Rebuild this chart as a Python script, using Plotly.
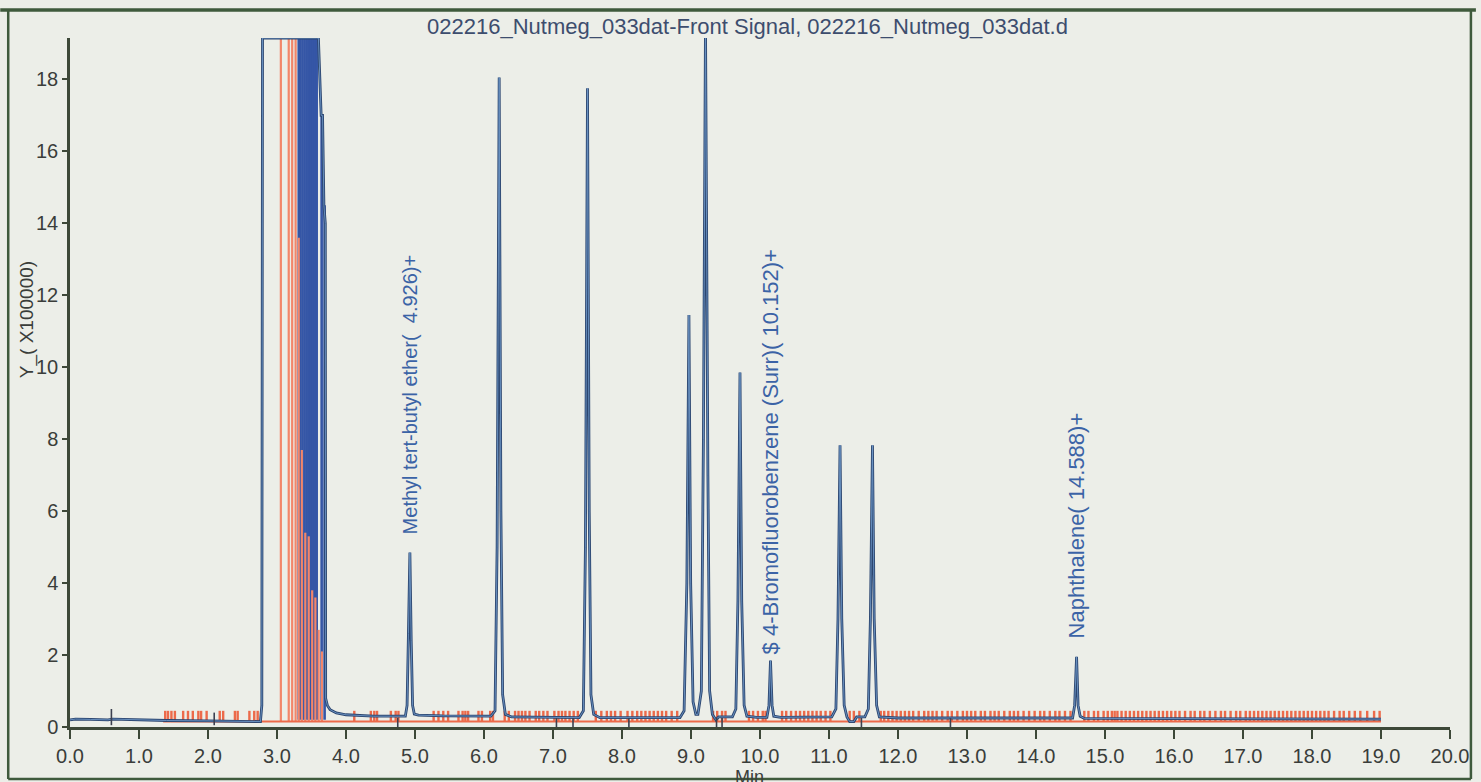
import plotly.graph_objects as go

FONT = "Liberation Sans, Arial, Helvetica, sans-serif"

# ---- Front signal (time in min, response in units of 100000) ----
sig_t = [0.00, 0.08, 0.30, 0.55, 0.62, 1.00, 1.40, 2.00, 2.50, 2.76,
         2.78, 2.79, 3.575, 3.60, 3.64, 3.66, 3.68, 3.70, 3.705, 3.73, 3.77, 3.86, 4.00, 4.40, 4.86,
         4.885, 4.905, 4.926, 4.945, 4.965, 4.99, 5.05,
         5.40, 6.10, 6.16, 6.19, 6.22, 6.245, 6.27, 6.31, 6.40,
         7.38, 7.44, 7.47, 7.50, 7.525, 7.55, 7.59, 7.68,
         8.84, 8.90, 8.94, 8.97, 8.995, 9.03, 9.07,
         9.10, 9.15, 9.18, 9.21, 9.245, 9.27, 9.31, 9.36, 9.40, 9.55,
         9.60, 9.65, 9.68, 9.71, 9.735, 9.77, 9.81, 9.95,
         10.10, 10.13, 10.152, 10.175, 10.20, 10.30,
         11.04, 11.10, 11.13, 11.16, 11.185, 11.22, 11.26, 11.30, 11.36, 11.40,
         11.52, 11.57, 11.60, 11.63, 11.655, 11.69, 11.73, 12.00,
         14.53, 14.56, 14.588, 14.61, 14.64, 14.70, 19.00]
sig_y = [0.20, 0.22, 0.21, 0.20, 0.22, 0.20, 0.18, 0.17, 0.15, 0.15,
         0.60, 19.15, 19.15, 19.15, 17.0, 17.0, 14.5, 14.0, 0.80, 0.60, 0.48, 0.39, 0.34, 0.30, 0.30,
         0.60, 2.60, 4.85, 2.40, 0.60, 0.36, 0.33,
         0.31, 0.30, 0.45, 5.00, 18.05, 6.00, 0.90, 0.35, 0.28,
         0.26, 0.45, 5.00, 17.75, 6.00, 0.90, 0.35, 0.26,
         0.26, 0.45, 4.00, 11.45, 4.00, 0.70, 0.35,
         0.35, 1.00, 8.00, 19.60, 7.00, 1.00, 0.35, 0.20, 0.28, 0.28,
         0.28, 0.50, 3.50, 9.85, 3.50, 0.60, 0.30, 0.27,
         0.27, 0.60, 1.85, 0.60, 0.30, 0.27,
         0.28, 0.50, 3.00, 7.83, 3.00, 0.60, 0.28, 0.15, 0.15, 0.28,
         0.28, 0.50, 3.00, 7.83, 3.00, 0.60, 0.28, 0.25,
         0.25, 0.60, 1.95, 0.60, 0.30, 0.24, 0.22]

# ---- solvent-front slice lines ----
blue_drop_t = [3.315, 3.34, 3.37, 3.40, 3.43, 3.46, 3.49, 3.52, 3.55, 3.575, 3.647, 3.69]
blue_drop_h = [19.15, 19.15, 19.15, 19.15, 19.15, 19.15, 19.15, 19.15, 19.15, 19.15, 17.0, 14.5]
red_drop_t = [3.056, 3.17, 3.22, 3.27, 3.315, 3.36, 3.41, 3.46, 3.51, 3.556, 3.604, 3.651]
red_drop_h = [19.15, 19.15, 19.15, 19.15, 13.6, 7.7, 5.4, 5.3, 3.8, 3.6, 2.7, 2.1]

# ---- integration event marks along the baseline ----
event_t = [1.38, 1.42, 1.47, 1.52, 1.64, 1.71, 1.78, 1.86, 1.90, 1.98, 2.17, 2.22, 2.39, 2.43,
           2.60, 2.67, 2.72,
           4.12, 4.36, 4.41, 4.45, 4.65, 4.72, 4.76,
           5.27, 5.34, 5.41, 5.48, 5.63, 5.69, 5.73, 5.77, 5.92, 5.97, 6.09, 6.13,
           6.30, 6.36, 6.45, 6.50, 6.55, 6.60, 6.66, 6.75, 6.80, 6.86, 6.92, 7.02, 7.08, 7.13,
           7.18, 7.24, 7.30, 7.36,
           7.62, 7.70, 7.78, 7.84, 7.90, 7.98, 8.08, 8.15, 8.22, 8.28, 8.34, 8.40, 8.46, 8.52,
           8.58, 8.64, 8.72, 8.80,
           9.32, 9.38, 9.45, 9.50,
           9.84, 9.90, 9.97, 10.04, 10.08,
           10.32, 10.38, 10.45, 10.52, 10.58, 10.64, 10.70, 10.76, 10.82, 10.88, 10.95, 11.02,
           11.30, 11.36, 11.44,
           11.75, 11.80, 11.86, 11.92, 11.98, 12.04, 12.10, 12.16, 12.22, 12.30, 12.38, 12.44,
           12.50, 12.56, 12.64, 12.72, 12.78, 12.86, 12.94, 13.00, 13.06, 13.12, 13.20, 13.26,
           13.34, 13.40, 13.46, 13.54, 13.62, 13.68, 13.74, 13.82, 13.90, 13.98, 14.06, 14.12,
           14.20, 14.28, 14.34, 14.42, 14.50,
           14.70, 14.76, 14.84, 14.90, 14.98, 15.04, 15.10, 15.14, 15.18, 15.24, 15.30, 15.36,
           15.42, 15.48, 15.54, 15.60, 15.66, 15.72, 15.78, 15.84, 15.90, 15.96, 16.02, 16.08,
           16.16, 16.24, 16.30, 16.38, 16.44, 16.52, 16.60, 16.68, 16.74, 16.82, 16.90, 16.96,
           17.04, 17.10, 17.16, 17.22, 17.28, 17.34, 17.40, 17.46, 17.52, 17.58, 17.64, 17.70,
           17.76, 17.82, 17.88, 17.94, 18.00, 18.06, 18.12, 18.18, 18.24, 18.32, 18.40, 18.46,
           18.54, 18.62, 18.70, 18.80, 18.90, 18.98]
event_base = 0.15
event_top = 0.45
event_line_span = [1.35, 19.0]

# ---- baseline split marks ----
split_t = [0.60, 2.09, 4.75, 7.05, 7.29, 8.10, 9.37, 9.45, 11.47, 12.76]
split_lo = [0.05, 0.05, 0.00, 0.00, 0.00, 0.00, 0.00, 0.00, 0.00, 0.00]
split_hi = [0.50, 0.40, 0.25, 0.25, 0.25, 0.25, 0.25, 0.25, 0.25, 0.25]

# ---- compound labels ----
cmpd_names = ["Methyl tert-butyl ether(  4.926)+",
              "$ 4-Bromofluorobenzene (Surr)( 10.152)+",
              "Naphthalene( 14.588)+"]
cmpd_rt = [4.926, 10.152, 14.588]
cmpd_h = [4.85, 1.85, 1.95]
cmpd_gap_px = [16, 4, 16]
cmpd_font = [20, 22, 22]

x_ticks = [float(v) for v in range(0, 21)]
y_ticks = list(range(0, 19, 2))

TITLE = "022216_Nutmeg_033dat-Front Signal, 022216_Nutmeg_033dat.d"

PAPER = "#eceee8"
SIG_DARK = "#2c4670"
SIG_LIGHT = "#6d96c6"
DROP_BLUE = "#3556a6"
SALMON = "#f2866a"
EVENT_RED = "#ec6a4a"
AXIS = "#3d4838"
TEXT = "#3a3d3a"
LABEL_BLUE = "#3b63a6"


def vlines(ts, lo, hi):
    xs, ys = [], []
    for t, a, b in zip(ts, lo, hi):
        xs += [t, t, None]
        ys += [a, b, None]
    return xs, ys


fig = go.Figure()

bx, by = vlines(blue_drop_t, [0.2] * len(blue_drop_t), blue_drop_h)
fig.add_trace(go.Scatter(x=bx, y=by, mode="lines", line=dict(color=DROP_BLUE, width=2.6),
                         hoverinfo="skip", showlegend=False))

rx, ry = vlines(red_drop_t, [0.15] * len(red_drop_t), red_drop_h)
fig.add_trace(go.Scatter(x=rx, y=ry, mode="lines", line=dict(color=SALMON, width=2.2),
                         hoverinfo="skip", showlegend=False))

# baseline event line and marks
fig.add_trace(go.Scatter(x=event_line_span, y=[event_base, event_base], mode="lines",
                         line=dict(color=EVENT_RED, width=2), hoverinfo="skip", showlegend=False))
ex, ey = vlines(event_t, [event_base] * len(event_t), [event_top] * len(event_t))
fig.add_trace(go.Scatter(x=ex, y=ey, mode="lines", line=dict(color=EVENT_RED, width=2.4),
                         hoverinfo="skip", showlegend=False))

# chromatogram: dark outer stroke with a lighter core
fig.add_trace(go.Scatter(x=sig_t, y=sig_y, mode="lines", line=dict(color=SIG_DARK, width=2.8),
                         hoverinfo="skip", showlegend=False))
fig.add_trace(go.Scatter(x=sig_t, y=sig_y, mode="lines", line=dict(color=SIG_LIGHT, width=0.9),
                         hoverinfo="skip", showlegend=False))

sx, sy = vlines(split_t, split_lo, split_hi)
fig.add_trace(go.Scatter(x=sx, y=sy, mode="lines", line=dict(color="#3c4050", width=1.6),
                         hoverinfo="skip", showlegend=False))

for name, rt, h, gap, fs in zip(cmpd_names, cmpd_rt, cmpd_h, cmpd_gap_px, cmpd_font):
    fig.add_annotation(x=rt, y=h, text=name, textangle=-90, showarrow=False,
                       xanchor="center", yanchor="bottom", yshift=gap,
                       font=dict(family=FONT, size=fs, color=LABEL_BLUE))

# page geometry helpers (pixels -> paper coordinates)
W, H = 1481, 782
ML, MR, MT, MB = 70, 26, 38, 55
PW, PH = W - ML - MR, H - MT - MB


def px(xp):
    return (xp - ML) / PW


def py(yp):
    return 1 - (yp - MT) / PH


fig.add_annotation(xref="paper", yref="paper", x=px(750), y=py(27), text=TITLE,
                   showarrow=False, xanchor="center", yanchor="middle",
                   font=dict(family=FONT, size=22, color="#3d4d6e"))
fig.add_annotation(xref="paper", yref="paper", x=px(27), y=py(320), text="Y_( X100000)",
                   textangle=-90, showarrow=False, xanchor="center", yanchor="middle",
                   font=dict(family=FONT, size=19, color=TEXT))
fig.add_annotation(xref="paper", yref="paper", x=px(752), y=py(765), text="Min",
                   showarrow=False, xanchor="center", yanchor="top",
                   font=dict(family=FONT, size=18, color=TEXT))
fig.add_annotation(xref="paper", yref="paper", x=px(735), y=py(5), text="Min",
                   showarrow=False, xanchor="center", yanchor="bottom",
                   font=dict(family=FONT, size=18, color=TEXT))

# outer frame of the printed panel
frame = dict(xref="paper", yref="paper", line=dict(color="#3f5a3c", width=2.5))
fig.add_shape(type="line", x0=px(0), x1=px(1481), y0=py(10), y1=py(10),
              **{**frame, "line": dict(color="#3f5a3c", width=3.5)})
fig.add_shape(type="line", x0=px(8), x1=px(8), y0=py(10), y1=py(779), **frame)
fig.add_shape(type="line", x0=px(1476), x1=px(1476), y0=py(10), y1=py(779), **frame)
fig.add_shape(type="line", x0=px(8), x1=px(1476), y0=py(779), y1=py(779), **frame)

fig.update_layout(
    width=W, height=H,
    margin=dict(l=ML, r=MR, t=MT, b=MB, pad=0),
    paper_bgcolor=PAPER, plot_bgcolor=PAPER,
    showlegend=False,
    font=dict(family=FONT, size=20, color=TEXT),
)
fig.update_xaxes(range=[0, 20], tickvals=x_ticks, ticktext=[f"{v:.1f}" for v in x_ticks],
                 showgrid=False, zeroline=False, showline=True, linecolor=AXIS, linewidth=2.5,
                 ticks="outside", ticklen=9, tickwidth=2, tickcolor=AXIS,
                 tickfont=dict(family=FONT, size=20, color=TEXT))
fig.update_yaxes(range=[0, 19.15], tickvals=y_ticks, ticktext=[str(v) for v in y_ticks],
                 showgrid=False, zeroline=False, showline=True, linecolor=AXIS, linewidth=2.5,
                 ticks="outside", ticklen=5, tickwidth=2, tickcolor=AXIS,
                 tickfont=dict(family=FONT, size=20, color=TEXT))

fig.write_html("out.html")
